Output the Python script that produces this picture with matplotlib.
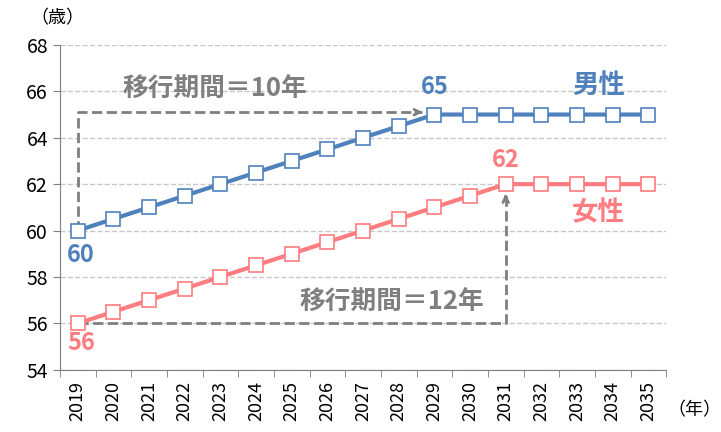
import numpy as np
import matplotlib.pyplot as plt

plt.rcParams['font.family'] = ['Noto Sans CJK JP', 'DejaVu Sans']

# データ
years = list(range(2019, 2036))
male = [60, 60.5, 61, 61.5, 62, 62.5, 63, 63.5, 64, 64.5, 65, 65, 65, 65, 65, 65, 65]
female = [56, 56.5, 57, 57.5, 58, 58.5, 59, 59.5, 60, 60.5, 61, 61.5, 62, 62, 62, 62, 62]
yticks = [54, 56, 58, 60, 62, 64, 66, 68]

blue = '#4f81bd'
pink = '#ff7c80'
gray = '#7f7f7f'

fig = plt.figure(figsize=(7.21, 4.32), dpi=100)
ax = fig.add_axes([0.083, 0.144, 0.841, 0.752])

x = np.arange(len(years))
ax.plot(x, male, color=blue, lw=3, marker='s', ms=9.5, mfc='white', mec=blue, mew=1.2, zorder=5)
ax.plot(x, female, color=pink, lw=3, marker='s', ms=9.5, mfc='white', mec=pink, mew=1.2, zorder=5)

ax.set_xlim(-0.5, len(years) - 0.5)
ax.set_ylim(54, 68)
ax.set_yticks(yticks)
ax.set_yticklabels([str(v) for v in yticks], fontsize=14)
ax.set_xticks(x)
ax.set_xticklabels([str(y) for y in years], rotation=90, fontsize=13)
ax.set_xticks(np.arange(-0.5, len(years)), minor=True)
ax.tick_params(axis='x', which='major', length=0, pad=8)
ax.tick_params(axis='x', which='minor', length=5, color=gray)
ax.tick_params(axis='y', length=5, color=gray)
ax.grid(axis='y', color='#c8c8c8', linestyle='--', lw=1)
ax.set_axisbelow(True)
for s in ['top', 'right']:
    ax.spines[s].set_visible(False)
for s in ['left', 'bottom']:
    ax.spines[s].set_color(gray)

# 移行期間の矢印（男性）
i29 = years.index(2029)
ax.plot([0, 0, i29 - 0.35], [60, 65.1, 65.1], color=gray, ls='--', lw=2, zorder=3)
ax.annotate('', xy=(i29 - 0.25, 65.1), xytext=(i29 - 0.6, 65.1),
            arrowprops=dict(arrowstyle='->', color=gray, lw=2), zorder=3)
# 移行期間の矢印（女性）
i31 = years.index(2031)
ax.plot([0, i31, i31], [56, 56, 61.6], color=gray, ls='--', lw=2, zorder=3)
ax.annotate('', xy=(i31, 61.7), xytext=(i31, 61.3),
            arrowprops=dict(arrowstyle='->', color=gray, lw=2), zorder=3)

ax.text(3.85, 66.1, '移行期間＝10年', color=gray, fontsize=18.5, fontweight='bold', ha='center', va='center')
ax.text(8.8, 56.9, '移行期間＝12年', color=gray, fontsize=18.5, fontweight='bold', ha='center', va='center')

ax.text(0.1, 58.95, '60', color=blue, fontsize=17, fontweight='bold', ha='center', va='center')
ax.text(i29, 66.2, '65', color=blue, fontsize=17, fontweight='bold', ha='center', va='center')
ax.text(0.1, 55.15, '56', color=pink, fontsize=17, fontweight='bold', ha='center', va='center')
ax.text(i31, 63.05, '62', color=pink, fontsize=17, fontweight='bold', ha='center', va='center')
ax.text(14.6, 66.25, '男性', color=blue, fontsize=19, fontweight='bold', ha='center', va='center')
ax.text(14.6, 60.75, '女性', color=pink, fontsize=19, fontweight='bold', ha='center', va='center')

fig.text(0.08, 0.957, '（歳）', fontsize=13, ha='center', va='center')
fig.text(0.963, 0.05, '（年）', fontsize=13, ha='center', va='center')

fig.savefig('out.png', dpi=100)
